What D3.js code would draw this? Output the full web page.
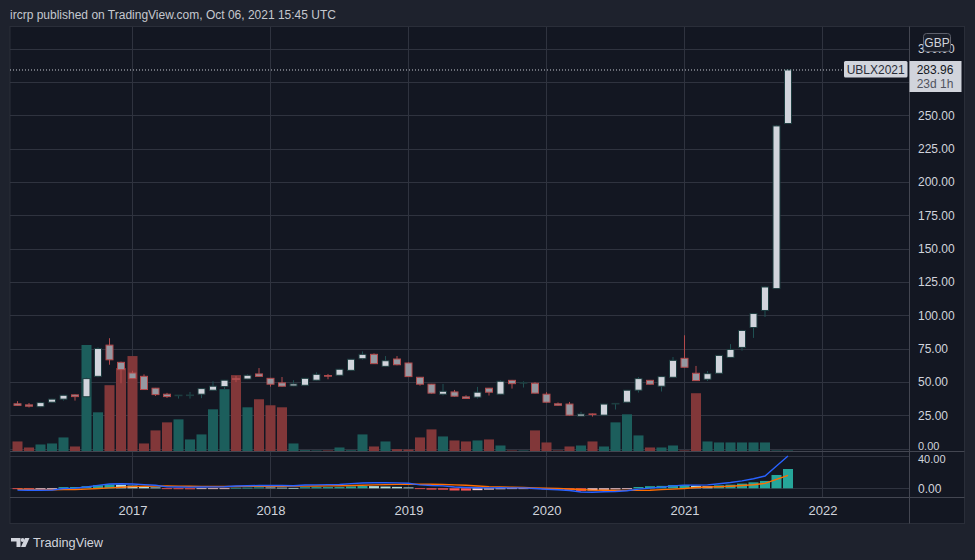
<!DOCTYPE html>
<html><head><meta charset="utf-8">
<script src="https://cdn.jsdelivr.net/npm/d3@7"></script>
<style>
html,body{margin:0;padding:0;background:#1e222d;}
svg{display:block;}
text{font-family:"Liberation Sans",Arial,sans-serif;}
</style></head><body>
<svg id="c" width="975" height="560"></svg>
<script>
// ---------- DATA ----------
const title = "ircrp published on TradingView.com, Oct 06, 2021 15:45 UTC";
const symbol = "UBLX2021";
const currency = "GBP";
const lastPrice = 283.96;
const countdown = "23d 1h";

const months = ["2016-03","2016-04","2016-05","2016-06","2016-07","2016-08","2016-09","2016-10","2016-11","2016-12",
"2017-01","2017-02","2017-03","2017-04","2017-05","2017-06","2017-07","2017-08","2017-09","2017-10","2017-11","2017-12",
"2018-01","2018-02","2018-03","2018-04","2018-05","2018-06","2018-07","2018-08","2018-09","2018-10","2018-11","2018-12",
"2019-01","2019-02","2019-03","2019-04","2019-05","2019-06","2019-07","2019-08","2019-09","2019-10","2019-11","2019-12",
"2020-01","2020-02","2020-03","2020-04","2020-05","2020-06","2020-07","2020-08","2020-09","2020-10","2020-11","2020-12",
"2021-01","2021-02","2021-03","2021-04","2021-05","2021-06","2021-07","2021-08","2021-09","2021-10"];

const open  = [33.6,32.8,31.4,34.8,37.1,40.3,38.9,54.2,77.6,64.7,
56.7,54.2,45.3,40.8,40.0,40.0,40.8,43.8,46.5,52.4,52.2,56.0,
52.7,49.3,47.0,47.5,51.3,54.8,55.0,58.7,67.4,70.7,61.7,67.2,
64.2,53.5,48.3,40.8,42.5,38.8,38.6,45.3,40.8,51.2,49.4,49.0,
40.8,33.6,33.4,24.4,26.0,25.1,33.6,34.8,43.8,51.2,46.8,53.5,
67.7,56.5,52.0,56.5,68.4,75.9,90.8,103.6,120.0,243.8];
const high  = [35.6,34.2,35.0,37.4,40.3,40.6,53.5,76.0,82.8,65.2,
58.4,55.7,45.5,41.8,40.2,42.5,45.2,50.5,51.5,54.5,55.7,60.4,
53.0,53.7,51.3,53.0,57.2,56.0,59.8,67.3,72.9,71.4,69.4,69.4,
64.5,53.7,48.5,48.5,44.0,40.0,46.3,45.5,51.2,51.5,50.5,49.8,
42.3,34.6,35.0,27.6,26.3,33.6,34.0,44.0,53.7,51.5,54.3,68.7,
85.0,62.0,58.2,70.0,78.4,89.0,101.5,121.6,242.5,284.2];
const low   = [32.2,30.8,31.0,34.5,36.0,36.0,38.5,53.5,62.9,49.0,
52.2,44.0,39.5,38.0,37.5,37.5,37.8,43.6,44.5,49.8,52.0,54.0,
46.5,46.5,46.8,47.3,51.0,52.0,54.8,58.5,66.7,63.5,61.5,62.5,
53.8,47.2,41.3,39.8,39.0,37.4,37.5,39.8,40.5,45.0,45.8,41.4,
34.6,32.2,24.8,24.2,24.0,25.0,29.3,34.5,42.0,48.0,42.8,53.3,
60.8,50.8,50.7,56.3,68.0,73.4,83.0,98.7,119.8,243.5];
const close = [32.4,31.8,34.5,37.1,40.0,39.0,52.5,75.1,66.6,59.2,
52.5,44.3,40.5,39.0,40.1,40.2,45.0,46.8,51.3,52.0,55.0,54.2,
48.3,46.8,48.5,52.7,55.7,54.3,59.5,67.0,70.7,63.7,65.9,62.9,
54.0,48.3,41.6,43.0,39.3,37.6,42.3,42.3,50.5,48.7,49.6,41.6,
34.8,32.5,25.1,25.9,25.6,33.4,33.9,43.8,52.5,48.3,54.0,66.2,
61.0,51.0,56.2,69.9,74.4,88.6,101.3,121.2,242.0,283.96];
const volume = [10,4,7,8,14,5,106,39,66,83,
95,8,21,29,32,12,17,42,62,76,44,52,
46,44,8,1.3,1.0,1.0,4,1.2,17,5,10,2.3,
2,14,22,15,11,10,11,12,6,1,1,21,
9,1,5,6,10,5,29,37,16,4,4,6,
1,58,10,9,9,9,9,9,1,1];

const macd   = [-2.2,-2.5,-2.4,-2.3,-0.2,0.2,1.6,3.6,5.3,5.6,
5.4,4.6,3.8,1.8,1.6,1.4,1.7,1.8,2.0,2.9,3.2,3.5,
3.5,3.4,3.2,4.0,4.3,4.5,4.7,5.8,6.6,6.9,6.8,6.7,
6.2,4.3,3.4,3.0,1.6,1.0,0.6,0.5,0.6,0.5,0.5,-0.3,
-1.2,-1.8,-2.8,-4.6,-4.9,-4.2,-3.9,-3.0,-1.0,0.2,1.4,3.0,
3.9,3.9,4.3,5.7,7.1,9.2,11.8,15.2,27.5,40.0];
const signal = [-1.2,-1.4,-1.7,-1.8,-1.7,-1.4,-1.0,-0.3,0.5,1.3,
2.1,2.5,2.7,2.8,2.7,2.6,2.4,2.3,2.3,2.2,2.4,2.4,
2.5,2.6,2.7,2.7,2.9,3.05,3.2,3.4,3.8,4.2,4.6,4.9,
5.1,5.1,5.0,4.7,4.3,3.8,2.9,2.1,1.8,1.3,0.9,0.5,
0.1,-0.3,-0.9,-1.4,-2.2,-2.4,-2.6,-2.6,-2.6,-2.4,-1.6,-1.0,
-0.3,0.9,1.6,2.0,2.6,3.4,4.4,6.1,11.0,16.1];
const hist   = [-1.0,-1.1,-0.7,-0.5,1.5,1.6,2.6,3.9,4.8,4.3,
3.3,2.1,1.1,-1.0,-1.1,-1.2,-0.7,-0.5,-0.3,0.7,0.8,1.1,
1.0,0.8,0.5,1.3,1.4,1.45,1.5,2.4,2.8,2.7,2.2,1.8,
1.1,-0.8,-1.6,-1.7,-2.7,-2.8,-2.3,-1.6,-1.2,-0.8,-0.4,-0.8,
-1.3,-1.5,-1.9,-3.2,-2.7,-1.8,-1.3,-0.4,1.6,2.6,3.0,4.0,
4.2,3.0,2.7,3.7,4.5,5.8,7.4,9.1,16.5,23.9];

const priceTicks = [0,25,50,75,100,125,150,175,200,225,250,275,300];
const macdTicks = [0,40];
const yearTicks = ["2017","2018","2019","2020","2021","2022"];

// ---------- LAYOUT ----------
const W = 975, H = 560;
const L = 10, PR = 909.5, CR = 964.5, T = 26.5;
const mainB = 451.5, indB = 497.5, axB = 523.5;

const C = {
  page:"#1e222d", bg:"#131722", grid:"#2f333f", sep:"#434651", text:"#d1d4dc",
  upFill:"#d1d4dc", upBorder:"#1d3c3f", upWick:"#1f5052",
  dnFill:"#9598a1", dnBorder:"#b24a4c", dnWick:"#b24a4c",
  volUp:"#1c5e5c", volDn:"#813739",
  hUp:"#26a69a", hUpL:"#b2dfdb", hDn:"#ff5252", hDnL:"#ffcdd2",
  macd:"#2962ff", sig:"#ff6d00"
};

const m0 = months[0].split("-").map(Number);
const monthIndex = s => { const [yy,mm] = s.split("-").map(Number); return (yy-m0[0])*12 + (mm-m0[1]); };
const yearIdx = yearTicks.map(yy => monthIndex(yy + "-01"));

const x = d3.scaleLinear().domain([0, 70]).range([17.5, 822.5]);
const y = d3.scaleLinear().domain([0, 300]).range([448.6, 48.6]);
const yv = d3.scaleLinear().domain([0, d3.max(volume)]).range([mainB, 345]);
const ym = d3.scaleLinear().domain([0, 40]).range([488.3, 456]);

const svg = d3.select("#c");
svg.append("rect").attr("width", W).attr("height", H).attr("fill", C.page);

// header
svg.append("text").attr("x", 10).attr("y", 18.5).attr("fill", "#c5c8cf")
  .attr("font-size", 12).text(title);

// chart background
svg.append("rect").attr("x", L).attr("y", T).attr("width", CR - L).attr("height", axB - T)
  .attr("fill", C.bg).attr("stroke", "#2a2e39");

const defs = svg.append("defs");
defs.append("clipPath").attr("id", "clipMain").append("rect")
  .attr("x", L).attr("y", T).attr("width", PR - L).attr("height", mainB - T);
defs.append("clipPath").attr("id", "clipInd").append("rect")
  .attr("x", L).attr("y", mainB).attr("width", PR - L).attr("height", indB - mainB);

// grids
const gMain = svg.append("g").attr("clip-path", "url(#clipMain)");
gMain.selectAll(".hg").data(priceTicks).join("line")
  .attr("x1", L).attr("x2", PR).attr("y1", d => Math.round(y(d)) + 0.5).attr("y2", d => Math.round(y(d)) + 0.5)
  .attr("stroke", C.grid);
gMain.selectAll(".vg").data(yearIdx).join("line")
  .attr("x1", d => Math.round(x(d)) - 0.5).attr("x2", d => Math.round(x(d)) - 0.5)
  .attr("y1", T).attr("y2", mainB).attr("stroke", C.grid);

const gInd = svg.append("g").attr("clip-path", "url(#clipInd)");
gInd.selectAll(".hg").data(macdTicks).join("line")
  .attr("x1", L).attr("x2", PR).attr("y1", d => Math.round(ym(d)) + 0.5).attr("y2", d => Math.round(ym(d)) + 0.5)
  .attr("stroke", C.grid);
gInd.selectAll(".vg").data(yearIdx).join("line")
  .attr("x1", d => Math.round(x(d)) - 0.5).attr("x2", d => Math.round(x(d)) - 0.5)
  .attr("y1", mainB).attr("y2", indB).attr("stroke", C.grid);

// volume
const up = i => close[i] >= open[i];
gMain.selectAll(".vol").data(volume).join("rect")
  .attr("x", (d,i) => x(i) - 5).attr("width", 10)
  .attr("y", d => yv(d)).attr("height", d => mainB - yv(d))
  .attr("fill", (d,i) => up(i) ? C.volUp : C.volDn);

// candles
const cg = gMain.selectAll(".cdl").data(months).join("g");
cg.append("line")
  .attr("x1", (d,i) => x(i)).attr("x2", (d,i) => x(i))
  .attr("y1", (d,i) => y(high[i])).attr("y2", (d,i) => y(low[i]))
  .attr("stroke", (d,i) => up(i) ? C.upWick : C.dnWick).attr("stroke-width", 1);
cg.append("rect")
  .attr("x", (d,i) => x(i) - 3.5).attr("width", 7)
  .attr("y", (d,i) => y(Math.max(open[i], close[i])))
  .attr("height", (d,i) => Math.max(0.6, Math.abs(y(open[i]) - y(close[i]))))
  .attr("fill", (d,i) => up(i) ? C.upFill : C.dnFill)
  .attr("stroke", (d,i) => up(i) ? C.upBorder : C.dnBorder).attr("stroke-width", 1);

// price line
svg.append("line").attr("x1", L).attr("x2", 844).attr("y1", y(lastPrice)).attr("y2", y(lastPrice))
  .attr("stroke", "#c9ccd4").attr("stroke-dasharray", "1,2");

// MACD histogram
const hColor = (h, i) => {
  const prev = i === 0 ? 0 : hist[i-1];
  if (h >= 0) return h >= prev ? C.hUp : C.hUpL;
  return h < prev ? C.hDn : C.hDnL;
};
gInd.selectAll(".hb").data(hist).join("rect")
  .attr("x", (d,i) => x(i) - 5).attr("width", 10)
  .attr("y", d => Math.min(ym(d), ym(0))).attr("height", d => Math.max(0.8, Math.abs(ym(d) - ym(0))))
  .attr("fill", (d,i) => hColor(d, i));

const line = d3.line().x((d,i) => x(i)).y(d => ym(d));
gInd.append("path").datum(signal).attr("d", line).attr("fill", "none")
  .attr("stroke", C.sig).attr("stroke-width", 1.4);
gInd.append("path").datum(macd).attr("d", line).attr("fill", "none")
  .attr("stroke", C.macd).attr("stroke-width", 1.4);

// separators
svg.append("line").attr("x1", L).attr("x2", CR).attr("y1", mainB).attr("y2", mainB).attr("stroke", C.sep);
svg.append("line").attr("x1", L).attr("x2", CR).attr("y1", indB).attr("y2", indB).attr("stroke", C.sep);
svg.append("line").attr("x1", PR).attr("x2", PR).attr("y1", T).attr("y2", axB).attr("stroke", C.sep);

// price axis (main pane)
const ay = svg.append("g").attr("transform", "translate(918,0)")
  .call(d3.axisRight(y).tickValues(priceTicks).tickFormat(d3.format(".2f")).tickSize(0).tickPadding(0));
ay.select(".domain").remove();
ay.selectAll("text").attr("fill", C.text).attr("font-family", '"Liberation Sans",Arial,sans-serif')
  .attr("font-size", d => d === 0 ? 11 : 12)
  .attr("dy", d => d === 0 ? "0.12em" : "0.32em");

// indicator axis
const am = svg.append("g").attr("transform", "translate(918,0)")
  .call(d3.axisRight(ym).tickValues(macdTicks).tickFormat(d3.format(".2f")).tickSize(0).tickPadding(0));
am.select(".domain").remove();
am.selectAll("text").attr("fill", C.text).attr("font-family", '"Liberation Sans",Arial,sans-serif')
  .attr("font-size", d => d === 40 ? 11 : 12)
  .attr("dy", d => d === 40 ? "0.6em" : "0.32em");

// time axis
const ax = svg.append("g").attr("transform", "translate(0,506)")
  .call(d3.axisBottom(x).tickValues(yearIdx).tickFormat((d,i) => yearTicks[i]).tickSize(0).tickPadding(0));
ax.select(".domain").remove();
ax.selectAll("text").attr("fill", C.text).attr("font-size", 13).attr("font-family", '"Liberation Sans",Arial,sans-serif');

// GBP badge
svg.append("rect").attr("x", 923.5).attr("y", 33.5).attr("width", 27).attr("height", 18).attr("rx", 3)
  .attr("fill", "#1a1e29").attr("stroke", "#5d606b");
svg.append("text").attr("x", 937).attr("y", 46.5).attr("text-anchor", "middle")
  .attr("fill", C.text).attr("font-size", 12).text(currency);

// symbol label
svg.append("rect").attr("x", 844).attr("y", 61).attr("width", 63.5).attr("height", 16.5).attr("rx", 1.5)
  .attr("fill", "#d1d4dc");
svg.append("text").attr("x", 875.7).attr("y", 73.5).attr("text-anchor", "middle")
  .attr("fill", "#2a2e39").attr("font-size", 12).text(symbol);

// last price label
svg.append("rect").attr("x", PR).attr("y", 61).attr("width", 52).attr("height", 31)
  .attr("fill", "#d1d4dc");
svg.append("text").attr("x", 935).attr("y", 74).attr("text-anchor", "middle")
  .attr("fill", "#131722").attr("font-size", 12).text(d3.format(".2f")(lastPrice));
svg.append("text").attr("x", 935).attr("y", 87.5).attr("text-anchor", "middle")
  .attr("fill", "#50535e").attr("font-size", 12).text(countdown);

// logo
const logo = svg.append("g").attr("fill", "#d1d4dc");
logo.append("path").attr("d", "M11,538 H20.5 V547 H16.5 V541.5 H11 Z");
logo.append("circle").attr("cx", 22.6).attr("cy", 540).attr("r", 1.9);
logo.append("path").attr("d", "M25,538 H29.5 L25.5,547 H21 Z");
svg.append("text").attr("x", 33).attr("y", 546.5).attr("fill", "#d1d4dc")
  .attr("font-size", 13).attr("textLength", 70).attr("lengthAdjust", "spacingAndGlyphs").text("TradingView");
</script>
</body></html>
